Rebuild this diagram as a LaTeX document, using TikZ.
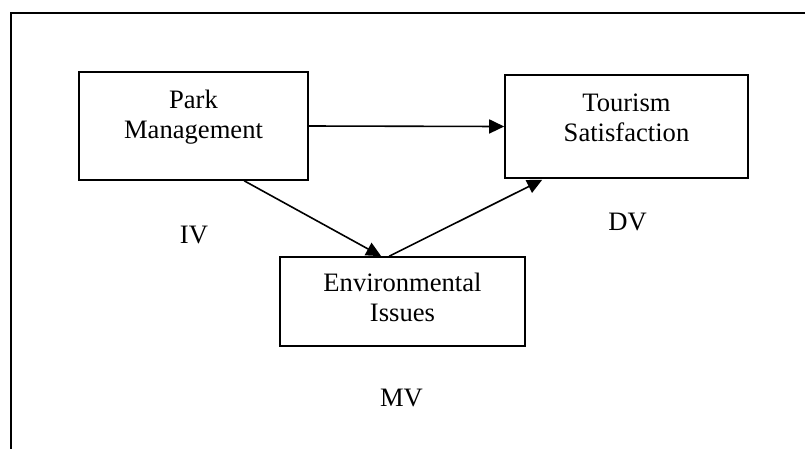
\documentclass[tikz,border=0pt]{standalone}
\usepackage{fontspec}
\setmainfont{Liberation Serif}
\usetikzlibrary{arrows.meta,calc}
\begin{document}
\begin{tikzpicture}[x=1pt,y=-1pt,
  box/.style={draw,line width=1.6pt,inner sep=0pt},
  txt/.style={font=\fontsize{26.6}{30}\selectfont,align=center,inner sep=0pt,anchor=base},
  conn/.style={line width=1.6pt,-{Triangle[length=15pt,width=14pt]}}]
\useasboundingbox (0,0) rectangle (805,448);
\draw[line width=1.7pt] (11,470) -- (11,13) -- (830,13);
% boxes
\node[box,minimum width=229pt,minimum height=108pt] (pm) at (193.5,126) {};
\node[box,minimum width=243pt,minimum height=103pt] (ts) at (626.5,126.5) {};
\node[box,minimum width=245pt,minimum height=89pt] (ei) at (402.5,301.5) {};
% box texts
\node[txt] (pmt) at (193.5,138) {Park\\Management};
\node[txt] (tst) at (626.5,141.5) {Tourism\\Satisfaction};
\node[txt] (eit) at (402.5,321.5) {Environmental\\Issues};
% labels
\node[txt] (iv) at (194,243) {IV};
\node[txt] (dv) at (627.5,230) {DV};
\node[txt] (mv) at (401.5,406.5) {MV};
% connectors
\draw[conn] (pm.east) -- (ts.west);
\draw[conn] ([xshift=166pt]pm.south west) -- ([xshift=102pt]ei.north west);
\draw[conn] ([xshift=110pt]ei.north west) -- ([xshift=38pt,yshift=-1pt]ts.south west);
\end{tikzpicture}
\end{document}
